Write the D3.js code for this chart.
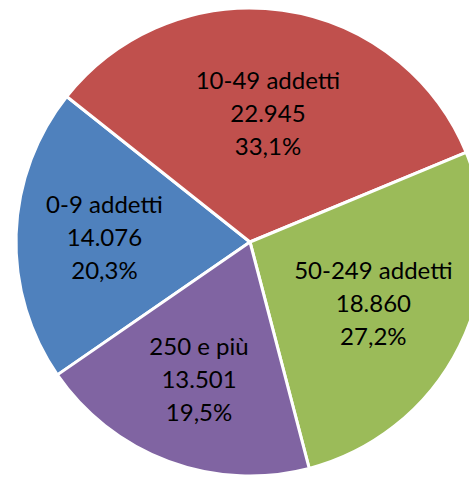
<!DOCTYPE html>
<html lang="it">
<head>
<meta charset="UTF-8">
<title>Imprese per classe di addetti</title>
<style>
  html, body { margin: 0; padding: 0; background: #fff; }
  svg { display: block; }
  .lbl { font-family: Lato, "Open Sans", sans-serif; font-size: 24px; fill: #000; }
</style>
</head>
<body>
<div id="chart"></div>
<script src="https://d3js.org/d3.v7.min.js"></script>
<script>
  // data
  const categories = ['0-9 addetti', '10-49 addetti', '50-249 addetti', '250 e più'];
  const values = [14076, 22945, 18860, 13501];
  const valueLabels = ['14.076', '22.945', '18.860', '13.501'];
  const pctLabels = ['20,3%', '33,1%', '27,2%', '19,5%'];
  const colors = ['#4F81BD', '#C0504D', '#9BBB59', '#8064A2'];

  const w = 469, h = 477;
  const cx = 250, cy = 242, R = 234;
  const start = 235.4 * Math.PI / 180;   // first slice starts here (rotated)
  const lineH = 33;

  const svg = d3.select('#chart').append('svg')
      .attr('width', w)
      .attr('height', h);

  const g = svg.append('g').attr('transform', `translate(${cx},${cy})`);

  const pie = d3.pie().sort(null).value(d => d.v)
      .startAngle(start).endAngle(start + 2 * Math.PI);

  const rows = categories.map((c, i) => ({ c, v: values[i], vl: valueLabels[i], pl: pctLabels[i], col: colors[i] }));
  const arcs = pie(rows);

  const arc = d3.arc().innerRadius(0).outerRadius(R);

  // label goes at the area centroid of the sector
  function labelPos(d) {
    const half = (d.endAngle - d.startAngle) / 2;
    const r = 2 * R * Math.sin(half) / (3 * half);
    const a = (d.startAngle + d.endAngle) / 2;
    return [r * Math.sin(a), -r * Math.cos(a)];
  }

  g.selectAll('path.slice')
    .data(arcs)
    .enter()
    .append('path')
    .attr('class', 'slice')
    .attr('d', arc)
    .attr('fill', d => d.data.col)
    .attr('stroke', '#fff')
    .attr('stroke-width', 3)
    .attr('stroke-linejoin', 'round');

  const labels = g.selectAll('text.lbl')
    .data(arcs)
    .enter()
    .append('text')
    .attr('class', 'lbl')
    .attr('text-anchor', 'middle')
    .attr('transform', d => `translate(${labelPos(d)})`);

  labels.each(function(d) {
    const t = d3.select(this);
    const lines = [d.data.c, d.data.vl, d.data.pl];
    lines.forEach((s, k) => {
      t.append('tspan')
        .attr('x', 0)
        .attr('y', (k - 1) * lineH + 8.5)
        .text(s);
    });
  });
</script>
</body>
</html>
